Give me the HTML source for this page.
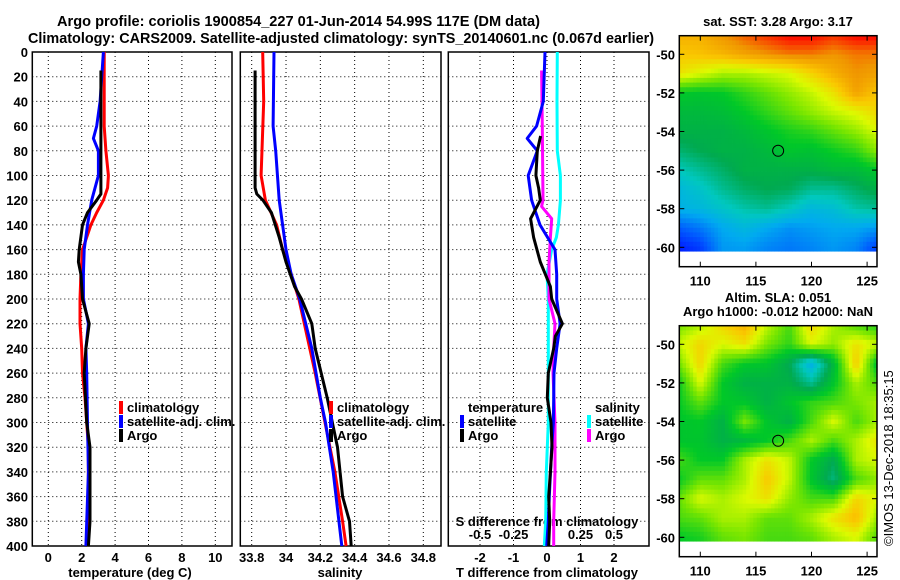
<!DOCTYPE html>
<html><head><meta charset="utf-8"><style>
html,body{margin:0;padding:0;background:#fff;}
svg{display:block;font-family:"Liberation Sans",sans-serif;font-weight:bold;}
</style></head><body>
<svg id="fig" width="900" height="580" viewBox="0 0 900 580" xmlns="http://www.w3.org/2000/svg">
<text x="57" y="26" font-size="15" textLength="483" lengthAdjust="spacingAndGlyphs">Argo profile: coriolis 1900854_227 01-Jun-2014 54.99S 117E (DM data)</text>
<text x="28" y="43" font-size="15" textLength="626" lengthAdjust="spacingAndGlyphs">Climatology: CARS2009. Satellite-adjusted climatology: synTS_20140601.nc (0.067d earlier)</text>
<text x="778" y="26" font-size="13" text-anchor="middle">sat. SST: 3.28 Argo: 3.17</text>
<text x="778" y="302" font-size="13" text-anchor="middle">Altim. SLA: 0.051</text>
<text x="778" y="316" font-size="13" text-anchor="middle">Argo h1000: -0.012 h2000: NaN</text>
<text x="0" y="0" font-size="13" font-weight="normal" transform="translate(893,546) rotate(-90)">©IMOS 13-Dec-2018 18:35:15</text>
<text x="130" y="577" font-size="13" text-anchor="middle">temperature (deg C)</text>
<text x="340" y="577" font-size="13" text-anchor="middle">salinity</text>
<text x="547" y="577" font-size="13" text-anchor="middle">T difference from climatology</text>
</svg>
<script>
// ---------- data ----------
const depthTicks=[0,20,40,60,80,100,120,140,160,180,200,220,240,260,280,300,320,340,360,380,400];
const tTicks=[0,2,4,6,8,10];
const sTicks=[33.8,34,34.2,34.4,34.6,34.8];
const sTickLabels=["33.8","34","34.2","34.4","34.6","34.8"];
const dTicks=[-2,-1,0,1,2];
const sdTicks=[-0.5,-0.25,0,0.25,0.5];
const sdTickLabels=["-0.5","-0.25","0","0.25","0.5"];

const climDepth=[0,20,40,60,80,100,110,120,130,140,160,180,200,220,240,260,280,300,320,350,380,400];
const climTemp=[3.35,3.35,3.35,3.35,3.45,3.6,3.55,3.3,2.9,2.55,2.05,1.95,1.9,1.9,2.0,2.05,2.2,2.3,2.4,2.4,2.4,2.3];
const climSDepth=[0,40,100,120,140,160,180,200,260,300,340,380,400];
const climSal=[33.864,33.87,33.855,33.88,33.945,33.98,34.03,34.075,34.17,34.227,34.285,34.33,34.35];

const satDepth=[0,40,60,70,80,100,120,140,160,180,200,220,240,260,300,340,400];
const satTemp=[3.3,3.1,2.9,2.7,3.0,3.0,2.6,2.35,2.15,2.1,2.1,2.4,2.25,2.3,2.35,2.4,2.25];
const satSDepth=[0,60,80,120,140,160,180,200,240,280,300,340,400];
const satSal=[33.93,33.925,33.94,33.96,33.98,34.0,34.03,34.08,34.15,34.2,34.23,34.275,34.325];

const argoDepth=[15,50,115,120,130,140,160,170,180,200,220,240,260,300,320,340,380,400];
const argoTemp=[3.15,3.15,3.15,2.9,2.35,2.05,1.85,1.8,1.95,2.05,2.45,2.25,2.15,2.3,2.5,2.5,2.5,2.4];
const argoSDepth=[15,110,115,120,130,150,170,190,200,220,240,280,320,360,380,400];
const argoSal=[33.82,33.82,33.83,33.865,33.915,33.96,34.0,34.05,34.09,34.15,34.17,34.24,34.3,34.33,34.37,34.38];

const dSatTDepth=[0,40,60,70,80,100,120,140,160,180,200,220,240,260,300,320,360,380,400];
const dSatT=[-0.06,-0.11,-0.31,-0.59,-0.29,-0.56,-0.46,-0.21,0.24,0.29,0.29,0.39,0.29,0.21,0.19,0.14,0.07,0.04,-0.01];
const dArgoTDepth=[68,80,100,110,120,135,150,170,190,200,220,230,240,260,280,300,320,340,360,380,400];
const dArgoT=[-0.19,-0.29,-0.33,-0.25,-0.2,-0.49,-0.4,-0.2,0.1,0.14,0.46,0.25,0.2,0.04,0.01,0.12,0.15,0.1,0.05,0.08,0.05];
const dSatSDepth=[0,40,80,100,120,140,150,160,180,200,220,260,300,340,380,400];
const dSatS=[0.077,0.075,0.077,0.1,0.1,0.085,0.07,0.035,0.0,0.01,0.01,0.01,0.01,-0.005,-0.01,-0.02];
const dArgoSDepth=[15,60,120,125,135,150,170,200,220,240,260,300,340,380,400];
const dArgoS=[-0.04,-0.035,-0.03,-0.04,0.035,0.025,0.015,0.015,0.06,0.05,0.045,0.06,0.06,0.05,0.05];

const mapLons=[108,110,112,114,116,118,120,122,124,126];
const mapLats=[-49,-50,-51,-52,-53,-54,-55,-56,-57,-58,-59,-60];
const sstGrid=[
[0.86,0.86,0.9,0.94,0.97,1,1,0.97,1,1],
[0.82,0.83,0.85,0.88,0.9,0.92,0.92,0.9,0.92,0.92],
[0.78,0.74,0.7,0.7,0.72,0.74,0.8,0.86,0.9,0.88],
[0.56,0.55,0.56,0.6,0.64,0.68,0.72,0.78,0.88,0.82],
[0.52,0.52,0.53,0.56,0.6,0.64,0.68,0.72,0.75,0.8],
[0.5,0.5,0.5,0.52,0.55,0.58,0.6,0.64,0.68,0.74],
[0.45,0.48,0.5,0.5,0.52,0.55,0.54,0.57,0.6,0.68],
[0.38,0.42,0.46,0.5,0.5,0.5,0.5,0.52,0.52,0.56],
[0.32,0.36,0.42,0.46,0.48,0.47,0.42,0.42,0.46,0.5],
[0.3,0.32,0.36,0.4,0.42,0.38,0.32,0.34,0.4,0.42],
[0.15,0.2,0.28,0.32,0.28,0.24,0.26,0.28,0.28,0.25],
[0.05,0.1,0.25,0.26,0.22,0.2,0.22,0.25,0.22,0.1]];
const slaGrid=[
[0.65,0.7,0.8,0.86,0.72,0.62,0.8,0.7,0.62,0.58],
[0.72,0.8,0.74,0.78,0.66,0.6,0.74,0.68,0.78,0.72],
[0.65,0.8,0.62,0.56,0.55,0.48,0.3,0.52,0.82,0.52],
[0.56,0.74,0.56,0.5,0.5,0.5,0.42,0.55,0.7,0.62],
[0.56,0.64,0.56,0.55,0.5,0.55,0.6,0.62,0.66,0.7],
[0.55,0.56,0.5,0.66,0.55,0.5,0.62,0.74,0.62,0.7],
[0.55,0.55,0.5,0.52,0.56,0.62,0.7,0.62,0.7,0.78],
[0.62,0.56,0.56,0.7,0.78,0.72,0.56,0.48,0.7,0.74],
[0.56,0.64,0.64,0.7,0.82,0.72,0.55,0.44,0.62,0.68],
[0.64,0.74,0.7,0.74,0.78,0.68,0.62,0.62,0.8,0.74],
[0.62,0.64,0.7,0.7,0.64,0.64,0.7,0.78,0.84,0.68],
[0.56,0.58,0.64,0.66,0.62,0.62,0.64,0.7,0.74,0.62]];
const lonTicks=[110,115,120,125];
const latTicks=[-50,-52,-54,-56,-58,-60];
const floatLon=117, floatLat=-55;

// ---------- scales ----------
const NS="http://www.w3.org/2000/svg";
const svg=document.getElementById('fig');
const yD=d=>52+1.235*d;
const xT=v=>48.3+16.7*v;
const xS=v=>251.7+171.6*(v-33.8);
const xDf=v=>547+33.5*v;
const xSd=v=>xDf(4*v);
function mk(tag,attrs,parent){const e=document.createElementNS(NS,tag);for(const k in attrs)e.setAttribute(k,attrs[k]);(parent||svg).appendChild(e);return e;}

// ---------- panels ----------
const panels=[
 {x0:32.3,x1:232,ticks:tTicks,labels:tTicks.map(String),sc:xT,name:'temperature'},
 {x0:240.3,x1:441,ticks:sTicks,labels:sTickLabels,sc:xS,name:'salinity'},
 {x0:448.3,x1:649,ticks:dTicks,labels:dTicks.map(String),sc:xDf,name:'difference'}];
const yTop=yD(0),yBot=yD(400);
panels.forEach((p,pi)=>{
  const g=mk('g',{});
  
  
  depthTicks.forEach(d=>{
    const l=mk('line',{x1:p.x0,x2:p.x1,y1:yD(d),y2:yD(d),stroke:'#000','stroke-width':1,'stroke-dasharray':'1,3'},g);
    
    
    if(pi===0){
      const t=mk('text',{x:28,y:yD(d)+5,'font-size':13,'text-anchor':'end'},g);
      t.textContent=d;
      
      
    }
  });
  p.ticks.forEach((v,i)=>{
    const x=p.sc(v);
    const l=mk('line',{x1:x,x2:x,y1:yTop,y2:yBot,stroke:'#000','stroke-width':1,'stroke-dasharray':'1,3'},g);
    
    
    const t=mk('text',{x:x,y:562,'font-size':13,'text-anchor':'middle'},g);
    t.textContent=p.labels[i];
    
    
  });
  const r=mk('rect',{x:p.x0,y:yTop,width:p.x1-p.x0,height:yBot-yTop,fill:'none',stroke:'#000','stroke-width':1.5},g);
  
  
});
sdTicks.forEach((v,i)=>{
  const t=mk('text',{x:xSd(v),y:539,'font-size':13,'text-anchor':'middle'});
  t.textContent=sdTickLabels[i];
  
  
});
const sdt=mk('text',{x:547,y:526,'font-size':13,'text-anchor':'middle'});
sdt.textContent='S difference from climatology';



function line(depths,vals,sc,color,name){
  const pts=depths.map((d,i)=>sc(vals[i]).toFixed(1)+','+yD(d).toFixed(1)).join(' ');
  const e=mk('polyline',{points:pts,fill:'none',stroke:color,'stroke-width':3,'stroke-linejoin':'round'});
  
  
}
line(climDepth,climTemp,xT,'#f00','climatology-temperature-line');
line(satDepth,satTemp,xT,'#00f','satellite-temperature-line');
line(argoDepth,argoTemp,xT,'#000','argo-temperature-line');
line(climSDepth,climSal,xS,'#f00','climatology-salinity-line');
line(satSDepth,satSal,xS,'#00f','satellite-salinity-line');
line(argoSDepth,argoSal,xS,'#000','argo-salinity-line');
line(dSatSDepth,dSatS,xSd,'#0ff','satellite-s-difference-line');
line(dArgoSDepth,dArgoS,xSd,'#f0f','argo-s-difference-line');
line(dSatTDepth,dSatT,xDf,'#00f','satellite-t-difference-line');
line(dArgoTDepth,dArgoT,xDf,'#000','argo-t-difference-line');

// ---------- legends ----------
function legend(x,y,color,label,name){
  const r=mk('rect',{x:x-2,y:y-11,width:4,height:13,fill:color});
  
  
  const t=mk('text',{x:x+6,y:y,'font-size':13});
  t.textContent=label;
  
  
}
legend(121,412,'#f00','climatology','legend-climatology');
legend(121,426,'#00f','satellite-adj. clim.','legend-satellite-adj');
legend(121,440,'#000','Argo','legend-argo');
legend(331,412,'#f00','climatology','legend2-climatology');
legend(331,426,'#00f','satellite-adj. clim.','legend2-satellite-adj');
legend(331,440,'#000','Argo','legend2-argo');
const lt=mk('text',{x:468,y:412,'font-size':13});lt.textContent='temperature';


const ls=mk('text',{x:595,y:412,'font-size':13});ls.textContent='salinity';


legend(462,426,'#00f','satellite','legend-t-satellite');
legend(462,440,'#000','Argo','legend-t-argo');
legend(589,426,'#0ff','satellite','legend-s-satellite');
legend(589,440,'#f0f','Argo','legend-s-argo');

// ---------- maps ----------
const stops=[[0,[0,0,255]],[0.15,[0,90,255]],[0.28,[0,170,240]],[0.38,[0,200,190]],[0.48,[0,170,80]],[0.56,[0,200,40]],[0.66,[120,230,0]],[0.74,[220,250,0]],[0.82,[250,200,0]],[0.9,[240,150,0]],[1,[255,0,0]]];
function cmap(v){v=Math.max(0,Math.min(1,v));for(let i=1;i<stops.length;i++){if(v<=stops[i][0]){const a=stops[i-1],b=stops[i],f=(v-a[0])/(b[0]-a[0]);return 'rgb('+a[1].map((c,k)=>Math.round(c+(b[1][k]-c)*f)).join(',')+')';}}return 'rgb(255,0,0)';}
function interp(grid,lon,lat){
  let fx=(lon-mapLons[0])/(mapLons[1]-mapLons[0]);let fy=(mapLats[0]-lat)/(mapLats[0]-mapLats[1]);
  fx=Math.max(0,Math.min(mapLons.length-1.001,fx));fy=Math.max(0,Math.min(mapLats.length-1.001,fy));
  const i=Math.floor(fx),j=Math.floor(fy),a=fx-i,b=fy-j;
  return grid[j][i]*(1-a)*(1-b)+grid[j][i+1]*a*(1-b)+grid[j+1][i]*(1-a)*b+grid[j+1][i+1]*a*b;
}
function drawMap(grid,top,name){
  const x0=679.3,x1=877,yb=top+231;
  const lx=v=>700.3+11.12*(v-110);
  const ly=v=>top+18.6+19.3*(-50-v);
  const g=mk('g',{});
  
  
  const n=56,m=46;const lonA=108.08,lonB=125.9,latA=-49.04,latB=-60.2;
  const dw=(lx(lonB)-lx(lonA))/n,dh=(ly(latB)-ly(latA))/m;
  for(let j=0;j<m;j++)for(let i=0;i<n;i++){
    const lon=lonA+(i+0.5)*(lonB-lonA)/n,lat=latA+(j+0.5)*(latB-latA)/m;
    const c=mk('rect',{x:(lx(lonA)+i*dw).toFixed(2),y:(ly(latA)+j*dh).toFixed(2),width:(dw+0.4).toFixed(2),height:(dh+0.4).toFixed(2),fill:cmap(interp(grid,lon,lat))},g);
    
    
  }
  const f=mk('rect',{x:x0,y:top,width:x1-x0,height:yb-top,fill:'none',stroke:'#000','stroke-width':1.5},g);
  
  
  lonTicks.forEach(v=>{
    const tk=mk('line',{x1:lx(v),x2:lx(v),y1:yb,y2:yb-5,stroke:'#000'},g);
    
    
    const tk2=mk('line',{x1:lx(v),x2:lx(v),y1:top,y2:top+5,stroke:'#000'},g);
    
    
    const t=mk('text',{x:lx(v),y:yb+19,'font-size':13,'text-anchor':'middle'},g);
    t.textContent=v;
    
    
  });
  latTicks.forEach(v=>{
    const tk=mk('line',{x1:x0,x2:x0+5,y1:ly(v),y2:ly(v),stroke:'#000'},g);
    
    
    const tk2=mk('line',{x1:x1,x2:x1-5,y1:ly(v),y2:ly(v),stroke:'#000'},g);
    
    
    const t=mk('text',{x:675,y:ly(v)+5,'font-size':13,'text-anchor':'end'},g);
    t.textContent=v;
    
    
  });
  const c=mk('circle',{cx:lx(floatLon),cy:ly(floatLat),r:5.5,fill:'none',stroke:'#000','stroke-width':1},g);
  
  
}
drawMap(sstGrid,35.7,'sst-map');
drawMap(slaGrid,325.7,'sla-map');
</script>
</body></html>
